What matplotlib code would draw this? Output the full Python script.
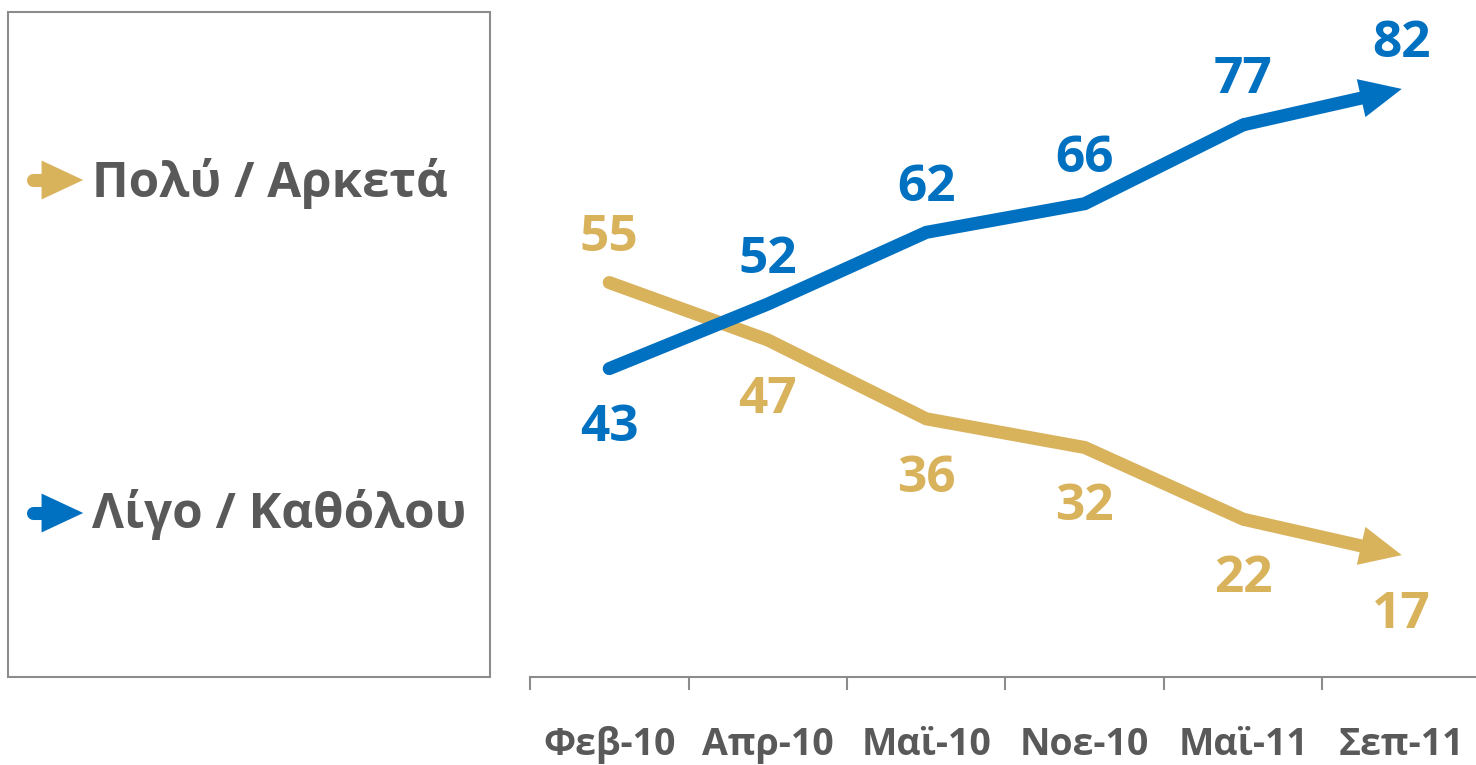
import matplotlib.pyplot as plt
from matplotlib.lines import Line2D
from matplotlib.patches import Rectangle, FancyArrowPatch

plt.rcParams['font.family'] = ['Open Sans', 'DejaVu Sans']

months = ['Φεβ-10', 'Απρ-10', 'Μαϊ-10', 'Νοε-10', 'Μαϊ-11', 'Σεπ-11']
much = [55, 47, 36, 32, 22, 17]
little = [43, 52, 62, 66, 77, 82]
names = ['Πολύ / Αρκετά', 'Λίγο / Καθόλου']
colors = ['#D9B25C', '#0070C0']
text_gray = '#595959'
axis_gray = '#8C8C8C'

W, H = 1476, 765
fig = plt.figure(figsize=(W / 100, H / 100), dpi=100)

# plot area: x from 530px to ~1481px, y from axis (677px) to top
ax = fig.add_axes([530 / W, (H - 677) / H, 951 / W, 677 / H])
ax.set_xlim(-0.5, len(months) - 0.5)
ax.set_ylim(0, 94.4)
for s in ['top', 'right', 'left']:
    ax.spines[s].set_visible(False)
ax.spines['bottom'].set_color(axis_gray)
ax.spines['bottom'].set_linewidth(1.5)
ax.set_yticks([])

x = list(range(len(months)))
ax.set_xticks([i - 0.5 for i in range(len(months) + 1)])
ax.set_xticklabels([])
ax.tick_params(axis='x', which='major', length=9, width=1.5, color=axis_gray)
ax.set_xticks(x, minor=True)
ax.set_xticklabels(months, minor=True, fontsize=27, fontweight='bold',
                   color=text_gray)
ax.tick_params(axis='x', which='minor', length=0, pad=35)

lw = 9.4
arrow = 'simple,tail_width=%g,head_width=28,head_length=30' % lw
for vals, other, col in [(much, little, colors[0]), (little, much, colors[1])]:
    ax.plot(x[:-1], vals[:-1], color=col, lw=lw, solid_capstyle='round',
            solid_joinstyle='miter')
    ax.annotate('', xy=(x[-1], vals[-1]), xytext=(x[-2], vals[-2]),
                arrowprops=dict(arrowstyle=arrow, mutation_scale=1, fc=col,
                                ec='none', lw=0, shrinkA=0, shrinkB=0))
    # label above the line that is on top, below the other one
    for xi, v, o in zip(x, vals, other):
        dy = 32 if v > o else -43
        ax.annotate(str(v), (xi, v), xytext=(0, dy), textcoords='offset points',
                    ha='center', va='center', fontsize=37, fontweight='bold',
                    color=col)

# legend box
fig.add_artist(Rectangle((8 / W, (H - 677) / H), 482 / W, 665 / H,
                         transform=fig.transFigure, fill=False,
                         ec=axis_gray, lw=1.5))
for name, col, yc, yb in [(names[0], colors[0], 180, 197), (names[1], colors[1], 513, 528)]:
    yf = (H - yc) / H
    fig.add_artist(Line2D([33 / W, 55 / W], [yf, yf], transform=fig.transFigure,
                          color=col, lw=lw, solid_capstyle='round'))
    fig.add_artist(FancyArrowPatch((40 / W, yf), (86 / W, yf),
                                   transform=fig.transFigure, arrowstyle=arrow,
                                   mutation_scale=1, fc=col, ec='none', lw=0))
    fig.text(92 / W, (H - yb) / H, name, fontsize=35.5, fontweight='bold',
             color=text_gray, ha='left', va='baseline')

fig.savefig('out.png', dpi=100)
